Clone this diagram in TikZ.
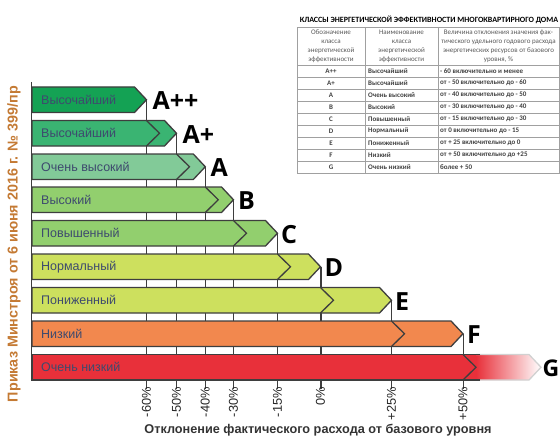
\documentclass[tikz,border=0pt]{standalone}
\usepackage{fontspec}
\setmainfont{Liberation Sans}
\newfontfamily\classfont{Open Sans}
\newfontfamily\tabfont{Carlito}
\usepackage{xcolor}
\definecolor{clsApp}{RGB}{20,162,84}
\definecolor{clsAp}{RGB}{58,180,114}
\definecolor{clsA}{RGB}{130,202,152}
\definecolor{clsB}{RGB}{146,207,110}
\definecolor{clsD}{RGB}{205,224,94}
\definecolor{clsF}{RGB}{242,136,78}
\definecolor{clsG}{RGB}{232,48,58}
\definecolor{bardark}{RGB}{62,62,62}
\definecolor{bartext}{RGB}{62,74,110}
\definecolor{orderbrown}{RGB}{196,122,52}
\definecolor{tabgray}{RGB}{160,160,160}
\usepackage{tikz}

\begin{document}
\begin{tikzpicture}[x=1pt,y=-1pt]
        \tikzset{bar/.style={draw=bardark, line width=1.3pt, line join=miter},
            barlabel/.style={anchor=west, inner sep=0pt, text=bartext, font=\fontsize{12.5}{14}\selectfont},
            classlabel/.style={anchor=west, inner sep=0pt, font=\classfont\bfseries\fontsize{25}{28}\selectfont},
            thresh/.style={draw=bardark, line width=0.9pt},
            ticklabel/.style={rotate=90, anchor=east, inner sep=0pt, text=black!85, font=\fontsize{12.8}{14}\selectfont},
            tabline/.style={draw=tabgray, line width=0.5pt},
            tabhead/.style={align=center, inner sep=0pt, text=black!65, font=\tabfont\fontsize{7}{9}\selectfont},
            tabcell/.style={inner sep=0pt, text=black!75, font=\tabfont\bfseries\fontsize{7}{8}\selectfont}}
        \useasboundingbox (0,0) rectangle (560,436);
        % Threshold tips and tick ends
        \coordinate (tApp) at (146.5,99.75);  \coordinate (kApp) at (146.5,389);
        \coordinate (tAp)  at (176.5,133.25); \coordinate (kAp)  at (176.5,389);
        \coordinate (tA)   at (205.3,166.75); \coordinate (kA)   at (205.3,389);
        \coordinate (tB)   at (233.5,199.75); \coordinate (kB)   at (233.5,389);
        \coordinate (tC)   at (277.5,233.25); \coordinate (kC)   at (277.5,389);
        \coordinate (tD)   at (320.5,266.75); \coordinate (kD)   at (320.5,389);
        \coordinate (tE)   at (391.5,300.25); \coordinate (kE)   at (391.5,389);
        \coordinate (tF)   at (463,333.75);   \coordinate (kF)   at (463,389);
        \coordinate (axTop) at (31,82);       \coordinate (axBot) at (31,380);
        % Threshold lines
        \draw[thresh] (tApp) -- (kApp);
        \draw[thresh] (tAp) -- (kAp);
        \draw[thresh] (tA) -- (kA);
        \draw[thresh] (tB) -- (kB);
        \draw[thresh] (tC) -- (kC);
        \draw[thresh, line width=2pt] (tD) -- (kD);
        \draw[thresh] (tE) -- (kE);
        \draw[thresh] (tF) -- (kF);
        \draw[thresh, line width=0.6pt] (axTop) -- (axBot);
        % Bars A++ to F
        \draw[bar, fill=clsApp] (32,87) -- (134.5,87) -- (146.5,99.75) -- (134.5,112.5) -- (32,112.5) -- cycle;
        \draw[bar, fill=clsAp] (32,120.5) -- (164.5,120.5) -- (176.5,133.25) -- (164.5,146) -- (32,146) -- cycle;
        \draw[bar] (146.5,120.5) -- (159.5,133.25) -- (146.5,146);
        \draw[bar, fill=clsA] (32,154) -- (193.3,154) -- (205.3,166.75) -- (193.3,179.5) -- (32,179.5) -- cycle;
        \draw[bar] (176.5,154) -- (189.5,166.75) -- (176.5,179.5);
        \draw[bar, fill=clsB] (32,187) -- (221.5,187) -- (233.5,199.75) -- (221.5,212.5) -- (32,212.5) -- cycle;
        \draw[bar] (205.3,187) -- (218.3,199.75) -- (205.3,212.5);
        \draw[bar, fill=clsB] (32,220.5) -- (265.5,220.5) -- (277.5,233.25) -- (265.5,246) -- (32,246) -- cycle;
        \draw[bar] (233.5,220.5) -- (246.5,233.25) -- (233.5,246);
        \draw[bar, fill=clsD] (32,254) -- (308.5,254) -- (320.5,266.75) -- (308.5,279.5) -- (32,279.5) -- cycle;
        \draw[bar] (277.5,254) -- (290.5,266.75) -- (277.5,279.5);
        \draw[bar, fill=clsD] (32,287.5) -- (379.5,287.5) -- (391.5,300.25) -- (379.5,313) -- (32,313) -- cycle;
        \draw[bar] (320.5,287.5) -- (333.5,300.25) -- (320.5,313);
        \draw[bar, fill=clsF] (32,321) -- (451,321) -- (463,333.75) -- (451,346.5) -- (32,346.5) -- cycle;
        \draw[bar] (391.5,321) -- (404.5,333.75) -- (391.5,346.5);
        % Bar G, fading out
        \fill[clsG] (32,354.5) rectangle (476,380);
        \shade[left color=clsG, right color=white] (476,354.5) -- (529,354.5) -- (541,367.25) -- (529,380) -- (476,380) -- cycle;
        \draw[bar, draw=black!18] (476,354.5) -- (529,354.5) -- (541,367.25) -- (529,380) -- (476,380);
        \draw[bar] (480,354.5) -- (32,354.5) -- (32,380) -- (480,380);
        \draw[bar] (463,354.5) -- (476,367.25) -- (463,380);
        % Bar names
        \node[barlabel] (nApp) at (41,99.75)  {Высочайший};
        \node[barlabel] (nAp)  at (41,133.25) {Высочайший};
        \node[barlabel] (nA)   at (41,166.75) {Очень высокий};
        \node[barlabel] (nB)   at (41,199.75) {Высокий};
        \node[barlabel] (nC)   at (41,233.25) {Повышенный};
        \node[barlabel] (nD)   at (41,266.75) {Нормальный};
        \node[barlabel] (nE)   at (41,300.25) {Пониженный};
        \node[barlabel] (nF)   at (41,333.75) {Низкий};
        \node[barlabel] (nG)   at (41,367.25) {Очень низкий};
        % Class letters
        \node[classlabel] (lApp) at (152.5,101) {A++};
        \node[classlabel] (lAp)  at (182.5,134.5) {A+};
        \node[classlabel] (lA)   at (210.5,168) {A};
        \node[classlabel] (lB)   at (238,201) {B};
        \node[classlabel] (lC)   at (281,234.5) {C};
        \node[classlabel] (lD)   at (324.5,268) {D};
        \node[classlabel] (lE)   at (395,301.5) {E};
        \node[classlabel] (lF)   at (467,335) {F};
        \node[classlabel, font=\classfont\bfseries\fontsize{23}{26}\selectfont] (lG) at (542.5,368.5) {G};
        % Tick labels
        \node[ticklabel] (pApp) at ([yshift=2pt]kApp) {-60\%};
        \node[ticklabel] (pAp)  at ([yshift=2pt]kAp)  {-50\%};
        \node[ticklabel] (pA)   at ([yshift=2pt]kA)   {-40\%};
        \node[ticklabel] (pB)   at ([yshift=2pt]kB)   {-30\%};
        \node[ticklabel] (pC)   at ([yshift=2pt]kC)   {-15\%};
        \node[ticklabel] (pD)   at ([yshift=2pt]kD)   {0\%};
        \node[ticklabel] (pE)   at ([yshift=2pt]kE)   {+25\%};
        \node[ticklabel] (pF)   at ([yshift=2pt]kF)   {+50\%};
        % Axis title and order
        \node[anchor=base, inner sep=0pt, text=black!80, font=\bfseries\fontsize{12.7}{14}\selectfont] (xtitle) at (318,433)
            {Отклонение фактического расхода от базового уровня};
        \node[rotate=90, inner sep=0pt, text=orderbrown, font=\bfseries\fontsize{14.3}{16}\selectfont] (order) at (14,244)
            {Приказ Минстроя от 6 июня 2016 г. № 399/пр};
        % Table
        \node[inner sep=0pt, font=\tabfont\bfseries\fontsize{8}{9}\selectfont] (ttitle) at (429,20)
            {КЛАССЫ ЭНЕРГЕТИЧЕСКОЙ ЭФФЕКТИВНОСТИ МНОГОКВАРТИРНОГО ДОМА};
        \draw[tabline] (297,27) rectangle (559,173);
        \draw[tabline] (365,27) -- (365,173) (438,27) -- (438,173);
        \draw[tabline] (297,65) -- (559,65) (297,77) -- (559,77) (297,89) -- (559,89)
            (297,101) -- (559,101) (297,113) -- (559,113) (297,125) -- (559,125)
            (297,137) -- (559,137) (297,149) -- (559,149) (297,161) -- (559,161);
        \node[tabhead] (h1) at (331,46)   {Обозначение\\класса\\энергетической\\эффективности};
        \node[tabhead] (h2) at (401.5,46) {Наименование\\класса\\энергетической\\эффективности};
        \node[tabhead] (h3) at (498.5,46) {Величина отклонения значения фак-\\тического удельного годового расхода\\энергетических ресурсов от базового\\уровня, \%};
        % Row 1
        \node[tabcell] (r1a) at (331,71) {A++};
        \node[tabcell, anchor=west] (r1b) at (368,71) {Высочайший};
        \node[tabcell, anchor=west] (r1c) at (440,71) {- 60 включительно и менее};
        % Row 2
        \node[tabcell] (r2a) at (331,83) {A+};
        \node[tabcell, anchor=west] (r2b) at (368,83) {Высочайший};
        \node[tabcell, anchor=west] (r2c) at (440,83) {от - 50 включительно до - 60};
        % Row 3
        \node[tabcell] (r3a) at (331,95) {A};
        \node[tabcell, anchor=west] (r3b) at (368,95) {Очень высокий};
        \node[tabcell, anchor=west] (r3c) at (440,95) {от - 40 включительно до - 50};
        % Row 4
        \node[tabcell] (r4a) at (331,107) {B};
        \node[tabcell, anchor=west] (r4b) at (368,107) {Высокий};
        \node[tabcell, anchor=west] (r4c) at (440,107) {от - 30 включительно до - 40};
        % Row 5
        \node[tabcell] (r5a) at (331,119) {C};
        \node[tabcell, anchor=west] (r5b) at (368,119) {Повышенный};
        \node[tabcell, anchor=west] (r5c) at (440,119) {от - 15 включительно до - 30};
        % Row 6
        \node[tabcell] (r6a) at (331,131) {D};
        \node[tabcell, anchor=west] (r6b) at (368,131) {Нормальный};
        \node[tabcell, anchor=west] (r6c) at (440,131) {от 0 включительно до - 15};
        % Row 7
        \node[tabcell] (r7a) at (331,143) {E};
        \node[tabcell, anchor=west] (r7b) at (368,143) {Пониженный};
        \node[tabcell, anchor=west] (r7c) at (440,143) {от + 25 включительно до 0};
        % Row 8
        \node[tabcell] (r8a) at (331,155) {F};
        \node[tabcell, anchor=west] (r8b) at (368,155) {Низкий};
        \node[tabcell, anchor=west] (r8c) at (440,155) {от + 50 включительно до +25};
        % Row 9
        \node[tabcell] (r9a) at (331,167) {G};
        \node[tabcell, anchor=west] (r9b) at (368,167) {Очень низкий};
        \node[tabcell, anchor=west] (r9c) at (440,167) {более + 50};
      \end{tikzpicture}
\end{document}
